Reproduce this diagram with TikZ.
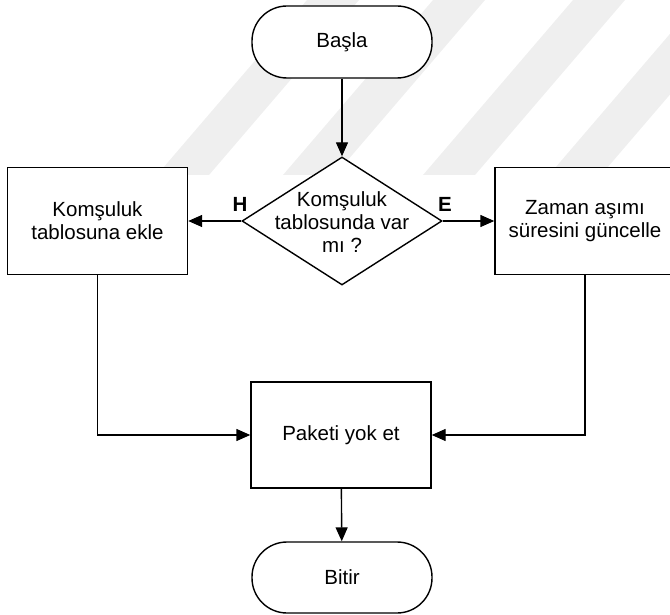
\documentclass[tikz,border=0pt]{standalone}
\usepackage{fontspec}
\setmainfont{Liberation Sans}
\usetikzlibrary{arrows.meta,shapes.geometric}
\definecolor{wmgray}{HTML}{EFEFEF}

\begin{document}
\begin{tikzpicture}[x=1pt,y=-1pt,
  font=\fontsize{20.5}{23}\selectfont,
  flow/.style={line width=1.4pt, -{Triangle[length=14pt,width=12pt]}},
  term/.style={draw, line width=1.4pt, fill=white, rectangle, rounded corners=35pt,
    minimum width=180pt, minimum height=72pt, inner sep=0pt},
  proc/.style={draw, line width=1.4pt, fill=white, rectangle,
    minimum width=180pt, minimum height=107pt, inner sep=0pt, align=center},
  decide/.style={draw, line width=1.4pt, fill=white, diamond,
    minimum width=200pt, minimum height=128pt, inner sep=0pt},
  branch/.style={font=\fontsize{20.5}{23}\selectfont\bfseries, inner sep=0pt}]
\useasboundingbox (0,0) rectangle (670,615);
\clip (0,0) rectangle (670,615);

% faint diagonal background stripes
\foreach \b in {157,283,423,549} {
  \fill[wmgray] (\b,175) -- (\b+52,175) -- (\b+202,0) -- (\b+150,0) -- cycle;
}

% nodes
\node[term] (start) at (342,42) {Başla};
\node[decide] (dec) at (342,221) {};
\node[align=center, inner sep=0pt] (dectext) at (342,222) {Komşuluk\\tablosunda var\\mı ?};
\node[proc] (lbox) at (97.5,221) {Komşuluk\\tablosuna ekle};
\node[proc] (rbox) at (585,221) {Zaman aşımı\\süresini güncelle};
\node[proc, minimum height=106pt] (pak) at (341,435) {Paketi yok et};
\node[term, minimum height=71pt] (stop) at (342,577.5) {Bitir};

% branch labels
\node[branch] (hlab) at (240,204) {H};
\node[branch] (elab) at (445,204) {E};

% connectors
\draw[flow] (start) -- (dec);
\draw[flow] (dec.west) -- (dec.west -| lbox.east);
\draw[flow] (dec.east) -- (dec.east -| rbox.west);
\draw[flow] (lbox.south) |- (pak.west);
\draw[flow] (rbox.south) |- (pak.east);
\draw[flow] (pak) -- (stop);
\end{tikzpicture}
\end{document}
